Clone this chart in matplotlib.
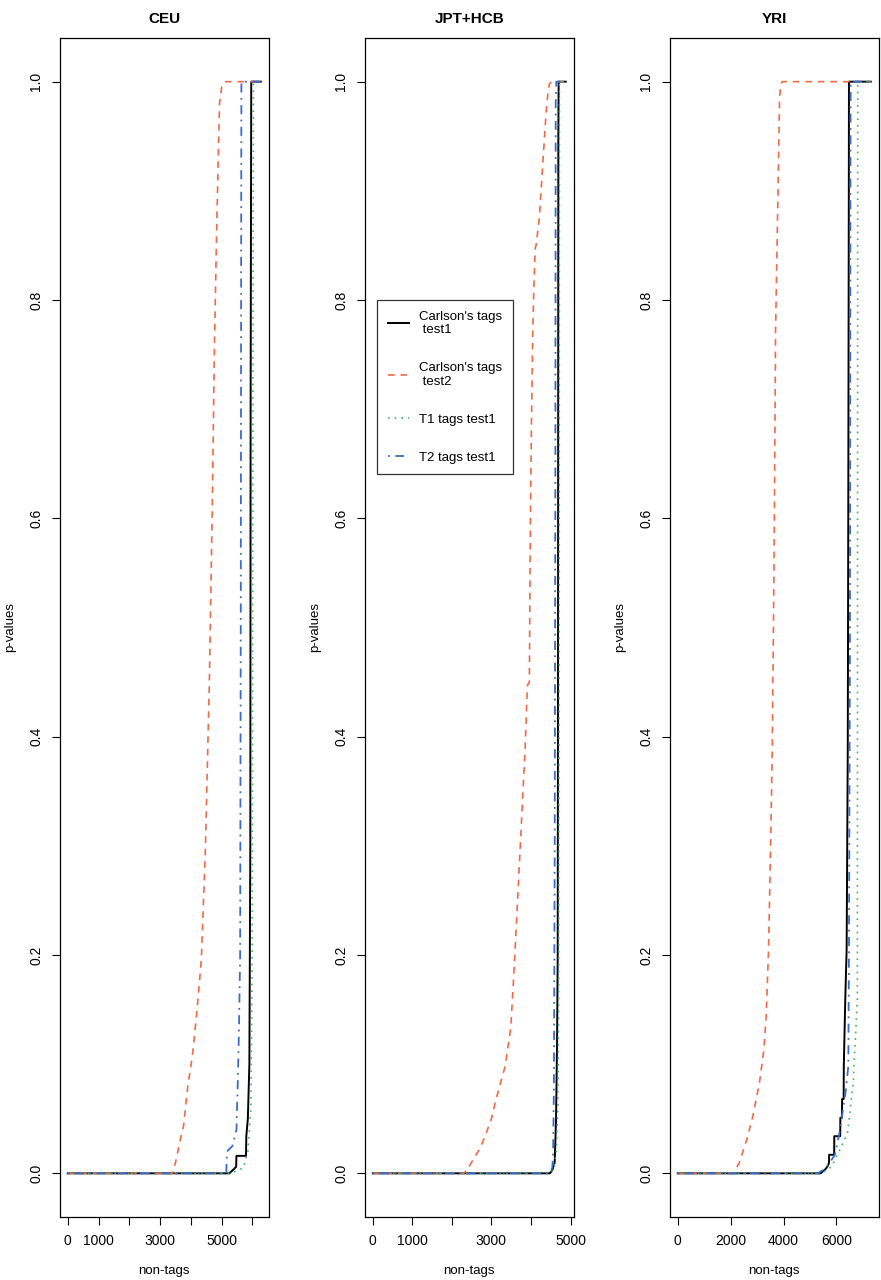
import numpy as np
import matplotlib
matplotlib.use("Agg")
import matplotlib.pyplot as plt
from matplotlib.lines import Line2D

plt.rcParams["font.family"] = ["Liberation Sans", "DejaVu Sans"]

# ---- data (x = rank of non-tag, y = sorted p-value) ----
titles = ["CEU", "JPT+HCB", "YRI"]
n_nontags = [6270, 4880, 7300]

# CEU
ceu_black_x = [0, 5250, 5400, 5470, 5480, 5790, 5800, 5850, 5900, 5930, 5940, 5960, 6270]
ceu_black_y = [0, 0, 0.004, 0.006, 0.016, 0.016, 0.034, 0.05, 0.1, 0.3, 0.7, 1.0, 1.0]
ceu_red_x = [0, 3400, 3500, 3650, 3760, 3900, 4030, 4070, 4200, 4340, 4470, 4600, 4700,
             4760, 4820, 4880, 4930, 5000, 5100, 5250, 6270]
ceu_red_y = [0, 0, 0.01, 0.03, 0.043, 0.08, 0.104, 0.113, 0.15, 0.196, 0.296, 0.45, 0.62,
             0.75, 0.84, 0.92, 0.98, 0.995, 1, 1, 1]
ceu_green_x = [0, 5300, 5700, 5850, 5950, 5990, 6010, 6030, 6270]
ceu_green_y = [0, 0, 0.005, 0.02, 0.06, 0.2, 0.6, 1, 1]
ceu_blue_x = [0, 5150, 5170, 5350, 5480, 5520, 5560, 5600, 5620, 5635, 5640, 6270]
ceu_blue_y = [0, 0, 0.02, 0.025, 0.04, 0.08, 0.13, 0.2, 0.5, 0.9, 1, 1]

# JPT+HCB
jpt_black_x = [0, 4480, 4540, 4600, 4634, 4660, 4676, 4685, 4692, 4700, 4880]
jpt_black_y = [0, 0, 0.003, 0.01, 0.05, 0.12, 0.2, 0.5, 0.95, 1, 1]
jpt_red_x = [0, 2300, 2400, 2546, 2700, 2841, 3000, 3119, 3346, 3489, 3556, 3641, 3725,
             3809, 3851, 3910, 3960, 3977, 4010, 4046, 4080, 4110, 4130, 4213, 4299,
             4381, 4430, 4465, 4520, 4880]
jpt_red_y = [0, 0, 0.004, 0.013, 0.022, 0.034, 0.05, 0.068, 0.098, 0.133, 0.175, 0.235,
             0.296, 0.358, 0.388, 0.447, 0.45, 0.559, 0.681, 0.772, 0.82, 0.848, 0.85,
             0.876, 0.925, 0.971, 0.99, 0.998, 1, 1]
jpt_green_x = [0, 4500, 4580, 4640, 4680, 4700, 4715, 4720, 4880]
jpt_green_y = [0, 0, 0.005, 0.02, 0.06, 0.15, 0.5, 1, 1]
jpt_blue_x = [0, 4450, 4540, 4560, 4580, 4600, 4615, 4625, 4640, 4880]
jpt_blue_y = [0, 0, 0.005, 0.02, 0.08, 0.3, 0.6, 0.98, 1, 1]

# YRI
yri_black_x = [0, 5400, 5550, 5627, 5700, 5720, 5726, 5916, 5920, 6144, 6150, 6209, 6215,
               6274, 6280, 6335, 6387, 6430, 6449, 6470, 6475, 7300]
yri_black_y = [0, 0, 0.003, 0.005, 0.008, 0.01, 0.017, 0.017, 0.034, 0.034, 0.051,
               0.051, 0.068, 0.068, 0.098, 0.159, 0.205, 0.388, 0.6, 0.9, 1, 1]
yri_red_x = [0, 2076, 2200, 2331, 2600, 2837, 3091, 3256, 3346, 3434, 3509, 3574, 3620,
             3660, 3700, 3788, 3852, 3900, 3954, 4050, 7300]
yri_red_y = [0, 0, 0.004, 0.010, 0.03, 0.052, 0.083, 0.113, 0.144, 0.205, 0.296, 0.388,
             0.5, 0.62, 0.772, 0.894, 0.986, 0.997, 1, 1, 1]
yri_green_x = [0, 5450, 5500, 5817, 6100, 6420, 6640, 6666, 6792, 6800, 6806, 7300]
yri_green_y = [0, 0, 0.001, 0.006, 0.02, 0.037, 0.083, 0.098, 0.159, 0.6, 1, 1]
yri_blue_x = [0, 5300, 5487, 5700, 5943, 6100, 6198, 6350, 6450, 6475, 6513, 6530, 6540, 7300]
yri_blue_y = [0, 0, 0.003, 0.008, 0.017, 0.035, 0.05, 0.075, 0.098, 0.2, 0.5, 0.9, 1, 1]

xticks = [list(range(0, 7000, 1000)), list(range(0, 6000, 1000)), list(range(0, 8000, 2000))]
xticklabels = [["0", "1000", "", "3000", "", "5000", ""],
               ["0", "1000", "", "3000", "", "5000"],
               ["0", "2000", "4000", "6000"]]
yticks = [0.0, 0.2, 0.4, 0.6, 0.8, 1.0]

series_names = ["Carlson's tags\n test1", "Carlson's tags\n test2", "T1 tags test1", "T2 tags test1"]
colors = ["black", "#f06a48", "#3cb46a", "#3b6cc8"]
styles = ["-", (0, (4, 3.5)), (0, (1, 3)), (0, (1, 3, 5, 3))]
widths = [1.4, 1.2, 1.2, 1.3]

panels = [
    [(ceu_black_x, ceu_black_y), (ceu_red_x, ceu_red_y), (ceu_green_x, ceu_green_y), (ceu_blue_x, ceu_blue_y)],
    [(jpt_black_x, jpt_black_y), (jpt_red_x, jpt_red_y), (jpt_green_x, jpt_green_y), (jpt_blue_x, jpt_blue_y)],
    [(yri_black_x, yri_black_y), (yri_red_x, yri_red_y), (yri_green_x, yri_green_y), (yri_blue_x, yri_blue_y)],
]

W, H = 881, 1280
fig = plt.figure(figsize=(W / 100, H / 100), dpi=100)
lefts = [60, 365, 670]
box_w, box_top, box_bot = 208.5, 38, 1217

axes = []
for i, left in enumerate(lefts):
    ax = fig.add_axes([left / W, 1 - box_bot / H, box_w / W, (box_bot - box_top) / H])
    axes.append(ax)
    n = n_nontags[i]
    for k, (xs, ys) in enumerate(panels[i]):
        ax.plot(xs, ys, color=colors[k], linestyle=styles[k], linewidth=widths[k], zorder=2 + k)
    ax.set_xlim(-0.04 * n, 1.04 * n)
    ax.set_ylim(-0.04, 1.04)
    ax.set_xticks(xticks[i])
    ax.set_xticklabels(xticklabels[i])
    ax.set_yticks(yticks)
    ax.set_yticklabels([f"{v:.1f}" for v in yticks], rotation=90, va="center")
    ax.tick_params(direction="out", length=6, width=0.8, pad=6, labelsize=10)
    for sp in ax.spines.values():
        sp.set_linewidth(0.9)
    ax.set_title(titles[i], fontsize=11, fontweight="bold", pad=11)
    ax.set_ylabel("p-values", fontsize=9.5)
    ax.yaxis.set_label_coords(-0.21, 0.5)
    ax.set_xlabel("non-tags", fontsize=9.5)
    ax.xaxis.set_label_coords(0.5, -0.041)

handles = [Line2D([0], [0], color=colors[k], linestyle=styles[k], linewidth=widths[k])
           for k in range(4)]
leg = axes[1].legend(handles, series_names, loc="upper left",
                     bbox_to_anchor=(377 / W, 1 - 300 / H), bbox_transform=fig.transFigure,
                     borderaxespad=0, fancybox=False, edgecolor="black", fontsize=9.5,
                     handlelength=1.6, labelspacing=1.95, borderpad=0.8, handletextpad=0.8)
leg.get_frame().set_linewidth(0.9)

fig.savefig("out.png", dpi=100)
